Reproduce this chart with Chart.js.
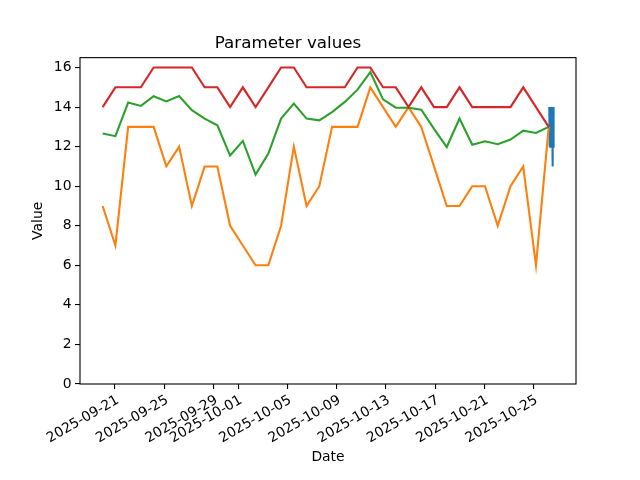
<!DOCTYPE html>
<html>
<head>
<meta charset="utf-8">
<script src="https://cdn.jsdelivr.net/npm/chart.js@4.4.1/dist/chart.umd.min.js"></script>
<style>
    html, body { margin: 0; padding: 0; background: #fff; }
    #wrap { width: 640px; height: 480px; }
</style>
</head>
<body>
<div id="wrap"><canvas id="paramChart" width="640" height="480"></canvas></div>
<script>
// day 0 = 2025-09-20, one sample about every 1.04 days
const startDate = '2025-09-20';
const stepDays = 1.035;

const orangeValues = [9, 7, 13, 13, 13, 11, 12, 9, 11, 11, 8, 7, 6, 6, 8, 12, 9, 10,
    13, 13, 13, 15, 14, 13, 14, 13, 11, 9, 9, 10, 10, 8, 10, 11, 6, 13];
const greenValues = [12.66, 12.53, 14.23, 14.06, 14.55, 14.29, 14.56, 13.84, 13.42, 13.08,
    11.55, 12.29, 10.59, 11.65, 13.42, 14.18, 13.42, 13.33, 13.75, 14.26, 14.88, 15.77,
    14.39, 13.97, 13.97, 13.87, 12.9, 11.98, 13.42, 12.1, 12.27, 12.12, 12.36, 12.81, 12.69, 13.0];
const redValues = [14, 15, 15, 15, 16, 16, 16, 16, 15, 15, 14, 15, 14, 15, 16, 16, 15, 15,
    15, 15, 16, 16, 15, 15, 14, 15, 14, 14, 15, 14, 14, 14, 14, 15, 14, 13];

// last day, many readings within a few hours
const blueDays = [36.27, 36.29, 36.32, 36.35, 36.38, 36.41, 36.44, 36.47, 36.50, 36.53, 36.56, 36.59, 36.62];
const blueValues = [14, 12, 14, 12, 14, 12, 14, 12, 14, 11, 14, 12, 14];

const xTickLabels = ['2025-09-21', '2025-09-25', '2025-09-29', '2025-10-01', '2025-10-05',
    '2025-10-09', '2025-10-13', '2025-10-17', '2025-10-21', '2025-10-25'];
const yTicks = [0, 2, 4, 6, 8, 10, 12, 14, 16];

const dayOf = (s) => (Date.parse(s) - Date.parse(startDate)) / 86400000;
const daily = (values) => values.map((v, i) => ({ x: i * stepDays, y: v }));

Chart.defaults.font.family = "'DejaVu Sans', sans-serif";
Chart.defaults.color = '#000';

const frame = {
    id: 'frame',
    afterDatasetsDraw(chart) {
        const { ctx, chartArea: a } = chart;
        ctx.save();
        ctx.strokeStyle = '#000';
        ctx.lineWidth = 1.1;
        ctx.strokeRect(a.left, a.top, a.right - a.left, a.bottom - a.top);
        ctx.restore();
    }
};

const line = (data, color, order) => ({
    data,
    borderColor: color,
    backgroundColor: color,
    borderWidth: 2.1,
    pointRadius: 0,
    tension: 0,
    fill: false,
    order,
});

const tickGrid = {
    display: true,
    drawOnChartArea: false,
    drawTicks: true,
    tickLength: 5,
    color: '#000',
    lineWidth: 1.1,
};

const config = {
    type: 'line',
    data: {
        datasets: [
            line(blueDays.map((d, i) => ({ x: d, y: blueValues[i] })), '#1f77b4', 3),
            line(daily(orangeValues), '#ff7f0e', 2),
            line(daily(greenValues), '#2ca02c', 1),
            line(daily(redValues), '#d62728', 0),
        ],
    },
    options: {
        responsive: false,
        animation: false,
        layout: { padding: { left: 0, right: 64, top: 0, bottom: 0 }, autoPadding: false },
        plugins: {
            legend: { display: false },
            tooltip: { enabled: false },
            title: {
                display: true,
                text: 'Parameter values',
                color: '#000',
                font: { size: 16.7, weight: 'normal' },
                padding: { top: 34, bottom: 3.6 },
            },
        },
        scales: {
            x: {
                type: 'linear',
                min: -1.84,
                max: 38.44,
                grid: tickGrid,
                border: { display: false },
                afterBuildTicks: (s) => { s.ticks = xTickLabels.map((l) => ({ value: dayOf(l) })); },
                afterFit: (s) => { s.height = 96; },
                ticks: {
                    autoSkip: false,
                    minRotation: 30,
                    maxRotation: 30,
                    padding: 3,
                    labelOffset: 3,
                    font: { size: 13.9 },
                    callback: (v, i) => xTickLabels[i],
                },
                title: { display: true, text: 'Date', font: { size: 13.9 }, padding: { top: 14, bottom: 14 } },
            },
            y: {
                min: 0,
                max: 16.5,
                grid: tickGrid,
                border: { display: false },
                afterBuildTicks: (s) => { s.ticks = yTicks.map((v) => ({ value: v })); },
                afterFit: (s) => { s.width = 80; },
                ticks: { padding: 3.5, font: { size: 13.9 }, callback: (v) => v },
                title: { display: true, text: 'Value', font: { size: 13.9 }, padding: { top: 30, bottom: 30 } },
            },
        },
    },
    plugins: [frame],
};

document.addEventListener('DOMContentLoaded', () => {
    new Chart(document.getElementById('paramChart'), config);
});
</script>
</body>
</html>
